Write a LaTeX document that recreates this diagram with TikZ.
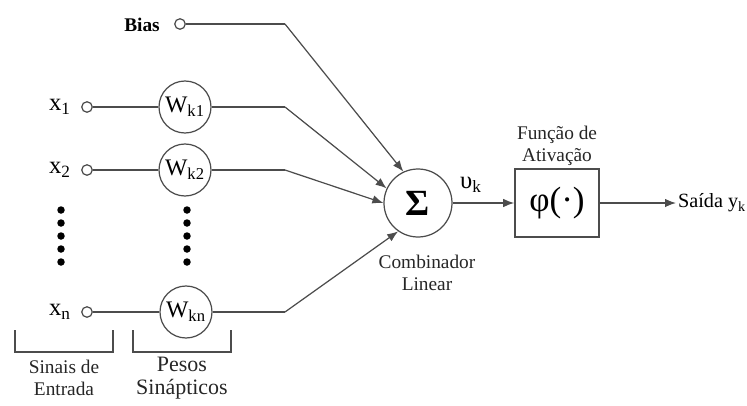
\documentclass[tikz,border=0pt]{standalone}
\usepackage{fontspec}
\setmainfont{Liberation Serif}
\usetikzlibrary{arrows.meta}

\tikzset{
    linha/.style={draw=black!70,line width=0.7pt},
    seta/.style={linha,-{Latex[length=2.2mm,width=1.7mm]}},
    entrada/.style={circle,draw=black!70,line width=0.7pt,inner sep=0pt,minimum size=0.21cm},
    peso/.style={circle,draw=black!70,line width=0.7pt,inner sep=0pt,minimum size=1.04cm,font=\fontsize{13.5}{16}\selectfont},
    rotulo/.style={align=center,font=\fontsize{11}{12.5}\selectfont,text=black!85}
}

\begin{document}
\begin{tikzpicture}
            \useasboundingbox (0,0) rectangle (14.94,8.1);

            % entradas
            \node[font=\bfseries\fontsize{11}{12}\selectfont] (lbias) at (2.84,7.6){Bias};
            \node[entrada] (bias) at (3.6,7.62){};
            \node[font=\fontsize{14}{16}\selectfont] (lx1) at (1.2,5.96){x\textsubscript{1}};
            \node[entrada] (in1) at (1.74,5.96){};
            \node[font=\fontsize{14}{16}\selectfont] (lx2) at (1.2,4.7){x\textsubscript{2}};
            \node[entrada] (in2) at (1.74,4.7){};
            \node[font=\fontsize{14}{16}\selectfont] (lxn) at (1.2,1.86){x\textsubscript{n}};
            \node[entrada] (inn) at (1.74,1.86){};

            % pesos
            \node[peso] (w1) at (3.7,5.96){W\textsubscript{k1}};
            \node[peso] (w2) at (3.7,4.7){W\textsubscript{k2}};
            \node[peso] (wn) at (3.72,1.86){W\textsubscript{kn}};

            \fill[black] (1.22,3.9) circle (0.075) (1.22,3.64) circle (0.075) (1.22,3.38) circle (0.075) (1.22,3.12) circle (0.075) (1.22,2.86) circle (0.075);
            \fill[black] (3.74,3.9) circle (0.075) (3.74,3.64) circle (0.075) (3.74,3.38) circle (0.075) (3.74,3.12) circle (0.075) (3.74,2.86) circle (0.075);

            % combinador e ativacao
            \node[circle,draw=black!70,line width=0.7pt,minimum size=1.36cm,font=\bfseries\fontsize{21}{22}\selectfont] (soma) at (8.36,4.04){Σ};
            \node[draw=black!70,line width=0.9pt,minimum width=1.68cm,minimum height=1.36cm,font=\fontsize{20}{23}\selectfont] (fi) at (11.14,4.04){φ(·)};
            \node[font=\fontsize{14}{16}\selectfont] (vk) at (9.42,4.4){υ\textsubscript{k}};
            \node[rotulo] (lfi) at (11.14,5.18){Função de\\Ativação};
            \node[rotulo] (lsoma) at (8.54,2.64){Combinador\\Linear};
            \node[anchor=west,font=\fontsize{11.5}{12}\selectfont,inner sep=1pt] (saida) at (13.52,4.04){Saída y\textsubscript{k}};

            \coordinate (cb) at (5.7,7.62);
            \coordinate (c1) at (5.7,5.96);
            \coordinate (c2) at (5.7,4.7);
            \coordinate (cn) at (5.7,1.86);

            \draw[linha] (bias) -- (cb);
            \draw[seta] (cb) -- (soma.115);
            \draw[linha] (in1) -- (w1);
            \draw[linha] (w1) -- (c1);
            \draw[seta] (c1) -- (soma.155);
            \draw[linha] (in2) -- (w2);
            \draw[linha] (w2) -- (c2);
            \draw[seta] (c2) -- (soma.180);
            \draw[linha] (inn) -- (wn);
            \draw[linha] (wn) -- (cn);
            \draw[seta] (cn) -- (soma.235);
            \draw[seta] (soma) -- (fi);
            \draw[seta] (fi) -- (saida);

            % chaves
            \draw[linha] (0.3,1.5) -- (0.3,1.06) -- (2.26,1.06) -- (2.26,1.5);
            \draw[linha] (2.66,1.5) -- (2.66,1.06) -- (4.62,1.06) -- (4.62,1.5);
            \node[rotulo] (lsinais) at (1.28,0.54){Sinais de\\Entrada};
            \node[rotulo,font=\fontsize{12.5}{13}\selectfont] (lpesos) at (3.64,0.54){Pesos\\Sinápticos};
        \end{tikzpicture}
\end{document}
